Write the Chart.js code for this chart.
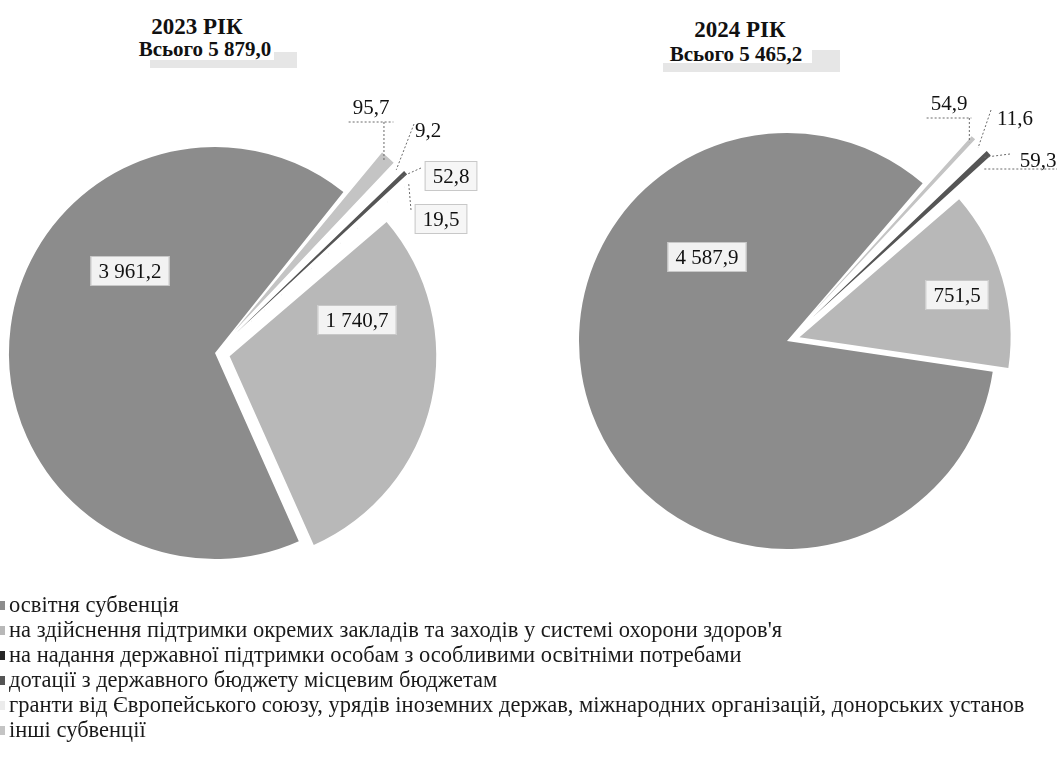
<!DOCTYPE html>
<html><head><meta charset="utf-8">
<script src="https://cdn.jsdelivr.net/npm/chart.js@4.4.0/dist/chart.umd.min.js"></script>
<style>
html,body{margin:0;padding:0;background:#fff;width:1057px;height:773px;overflow:hidden;position:relative;font-family:"Liberation Serif","DejaVu Serif",serif;}
canvas{position:absolute;}
.title{position:absolute;font-family:"Liberation Serif","DejaVu Serif",serif;font-weight:bold;color:#111;white-space:nowrap;transform:translate(-50%,-50%);line-height:1;}
.shade{position:absolute;background:#e6e6e6;}
#legend{position:absolute;left:0;top:592px;font-family:"Liberation Serif","DejaVu Serif",serif;font-size:22.5px;color:#1a1a1a;z-index:5;}
#legend div{height:25px;line-height:25px;white-space:nowrap;}
#legend span.m{display:inline-block;width:5px;height:9px;margin-right:4px;vertical-align:middle;position:relative;top:-1px;}
</style></head><body>
<div class="shade" style="left:150px;top:60px;width:147px;height:8px"></div>
<div class="shade" style="left:274px;top:52px;width:23px;height:8px"></div>
<div class="shade" style="left:663px;top:63px;width:177px;height:9px"></div>
<div class="shade" style="left:812px;top:50px;width:28px;height:13px"></div>
<div id="t0" class="title" style="left:197px;top:26px;font-size:23px"></div>
<div id="s0" class="title" style="left:205px;top:49px;font-size:21px"></div>
<div id="t1" class="title" style="left:740px;top:29px;font-size:23px"></div>
<div id="s1" class="title" style="left:736px;top:54px;font-size:21px"></div>
<canvas id="c2023" width="520" height="586" style="left:0;top:60px"></canvas>
<canvas id="c2024" width="527" height="562" style="left:530px;top:60px"></canvas>
<div id="legend"></div>
<script>
// ---- data ----
const CATEGORIES = [
  'освітня субвенція',
  "на здійснення підтримки окремих закладів та заходів у системі охорони здоров'я",
  'на надання державної підтримки особам з особливими освітніми потребами',
  'дотації з державного бюджету місцевим бюджетам',
  'гранти від Європейського союзу, урядів іноземних держав, міжнародних організацій, донорських установ',
  'інші субвенції'
];
const YEARS = ['2023 РІК', '2024 РІК'];
const TOTALS = [5879.0, 5465.2];
const VALUES_2023 = [3961.2, 1740.7, 19.5, 52.8, 9.2, 95.7];
const VALUES_2024 = [4587.9, 751.5, 0, 59.3, 11.6, 54.9];
const COLORS = ['#8c8c8c', '#b8b8b8', '#262626', '#555555', '#ececec', '#c4c4c4'];
// slices run counter-clockwise in the source; Chart.js draws clockwise
const DRAW_ORDER = [0, 5, 4, 3, 2, 1];

function fmt(v) {
  const parts = v.toFixed(1).split('.');
  return parts[0].replace(/\B(?=(\d{3})+(?!\d))/g, ' ') + ',' + parts[1];
}

// ---- titles & legend ----
YEARS.forEach((y, i) => {
  document.getElementById('t' + i).textContent = y;
  document.getElementById('s' + i).textContent = 'Всього ' + fmt(TOTALS[i]);
});
const lg = document.getElementById('legend');
CATEGORIES.forEach((c, i) => {
  const d = document.createElement('div');
  const m = document.createElement('span'); m.className = 'm'; m.style.background = COLORS[i];
  d.appendChild(m); d.appendChild(document.createTextNode(c)); lg.appendChild(d);
});

// ---- label styling (positions relative to pie centre) ----
const LABELS_2023 = {
  0: {dx: -85, dy: -82, box: true},
  1: {dx: 142, dy: -33, box: true},
  5: {dx: 156, dy: -246, under: 15},
  4: {dx: 213, dy: -223, lead: [-14, -6]},
  3: {dx: 236, dy: -177, box: true, lead: [-30, -8]},
  2: {dx: 226, dy: -134, box: true, lead: [-30, -9]}
};
const LABELS_2024 = {
  0: {dx: -80, dy: -84, box: true},
  1: {dx: 170, dy: -46, box: true},
  5: {dx: 162, dy: -238, under: 15},
  4: {dx: 228, dy: -223, lead: [-24, -8]},
  3: {dx: 251, dy: -181, under: 9, lead: [-28, -6]}
};

function labelPlugin(pos) {
  return {
    id: 'vals',
    afterDatasetsDraw(chart) {
      const ctx = chart.ctx;
      const meta = chart.getDatasetMeta(0);
      meta.data.forEach((arc, k) => {
        const cat = DRAW_ORDER[k];
        const v = chart.data.datasets[0].data[k];
        const p = pos[cat];
        if (!v || !p) return;
        const cx = arc.x, cy = arc.y;
        const tx = cx + p.dx, ty = cy + p.dy;
        ctx.save();
        ctx.font = '21px "Liberation Serif", "DejaVu Serif", serif';
        const text = fmt(v);
        const w = ctx.measureText(text).width;
        // anchor on the slice edge
        const mid = (arc.startAngle + arc.endAngle) / 2;
        const off = (arc.options.offset || 0) / 4;
        const fix = 1 - Math.sin(Math.min(Math.PI, arc.endAngle - arc.startAngle));
        const r = off + arc.outerRadius + off * fix - 6;
        const ax = cx + Math.cos(mid) * r, ay = cy + Math.sin(mid) * r;
        ctx.strokeStyle = '#6a6a6a'; ctx.lineWidth = 1; ctx.setLineDash([2, 2]);
        if (p.under !== undefined) {
          const uy = ty + p.under;
          const x1 = Math.min(tx - w / 2 - 4, ax), x2 = Math.max(tx + w / 2 + 4, ax);
          ctx.beginPath(); ctx.moveTo(x1, uy); ctx.lineTo(x2, uy); ctx.stroke();
          if (!p.lead) { ctx.beginPath(); ctx.moveTo(ax, uy); ctx.lineTo(ax, ay); ctx.stroke(); }
        }
        if (p.lead) {
          ctx.beginPath(); ctx.moveTo(tx + p.lead[0], ty + p.lead[1]); ctx.lineTo(ax, ay); ctx.stroke();
        }
        ctx.setLineDash([]);
        if (p.box) {
          ctx.fillStyle = 'rgba(246,246,246,0.96)';
          ctx.fillRect(tx - w / 2 - 8, ty - 15, w + 16, 30);
          ctx.strokeStyle = '#c8c8c8';
          ctx.strokeRect(tx - w / 2 - 8 + 0.5, ty - 15 + 0.5, w + 15, 29);
        }
        ctx.fillStyle = '#111';
        ctx.textAlign = 'center'; ctx.textBaseline = 'middle';
        ctx.fillText(text, tx, ty + 1);
        ctx.restore();
      });
    }
  };
}

function makePie(id, values, rotation, radius, offsets, padding, labels) {
  return new Chart(document.getElementById(id), {
    type: 'pie',
    data: {
      labels: DRAW_ORDER.map(i => CATEGORIES[i]),
      datasets: [{
        data: DRAW_ORDER.map(i => values[i]),
        backgroundColor: DRAW_ORDER.map(i => COLORS[i]),
        borderWidth: 0,
        offset: DRAW_ORDER.map(i => offsets[i])
      }]
    },
    options: {
      responsive: false, animation: false, events: [],
      rotation: rotation, radius: radius,
      layout: {padding: padding},
      plugins: {legend: {display: false}, tooltip: {enabled: false}}
    },
    plugins: [labelPlugin(labels)]
  });
}

makePie('c2023', VALUES_2023, 156, 206, [0, 60, 116, 116, 116, 116], {right: 90}, LABELS_2023);
makePie('c2024', VALUES_2024, 98.5, 208, [0, 52, 140, 140, 140, 140], {right: 13}, LABELS_2024);
</script>
</body></html>
